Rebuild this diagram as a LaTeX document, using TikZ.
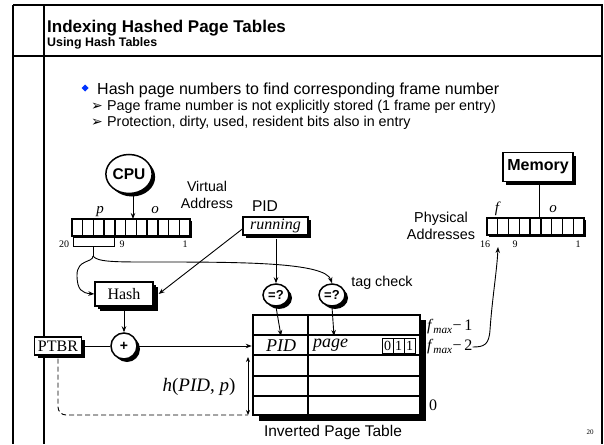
\documentclass[tikz,border=0pt]{standalone}
\usepackage{fontspec}
\setmainfont{Liberation Serif}
\setsansfont{Liberation Sans}
\newfontfamily\symfont{DejaVu Sans}
\usetikzlibrary{shapes.geometric,shadows,arrows.meta}

\begin{document}
\begin{tikzpicture}[x=1pt,y=-1pt,
  sh/.style={drop shadow={shadow xshift=#1,shadow yshift=-#1,fill=black,opacity=1}},
  sh/.default=3pt,
  arr/.style={-{Stealth[length=6pt,width=4.5pt]},line width=0.9pt},
  txt/.style={inner sep=0pt,font=\sffamily\fontsize{#1}{#1}\selectfont},
  txt/.default=14,
  rmtxt/.style={inner sep=0pt,font=\rmfamily\fontsize{#1}{#1}\selectfont},
  rmtxt/.default=10,
  subarrow/.style={inner sep=0pt,anchor=base west,font=\symfont\fontsize{14}{14}\selectfont},
  boxnode/.style={draw,fill=white,line width=1.3pt,inner sep=1pt,sh},
  roundnode/.style={ellipse,draw,fill=white,line width=1.5pt,inner sep=0pt,sh},
  cell/.style={draw,fill=white,line width=1.4pt},
  tline/.style={line width=2.6pt},
]
\useasboundingbox (0,0) rectangle (604,444);

% slide frame
\draw[line width=1.8pt] (13,5) -- (13,444);
\draw[line width=1.2pt] (44,5) -- (44,444);
\draw[line width=1.8pt] (13,5) -- (602,5) -- (602,444);
\draw[line width=1.5pt] (13,56) -- (602,56);

% headings
\node[txt=17,anchor=base west] (title) at (47,33) {\bfseries Indexing Hashed Page Tables};
\node[txt=12.4,anchor=base west] (subtitle) at (47,46) {\bfseries Using Hash Tables};

% bullets
\fill[blue!80!cyan] (85,84.5) -- (88.5,88) -- (85,91.5) -- (81.5,88) -- cycle;
\node[txt=16,anchor=base west] (b1) at (97,94) {Hash page numbers to find corresponding frame number};
\node[subarrow] (a1) at (91,110) {➢};
\node[txt=14.3,anchor=base west] (b2) at (107,110) {Page frame number is not explicitly stored (1 frame per entry)};
\node[subarrow] (a2) at (91,126) {➢};
\node[txt=14.3,anchor=base west] (b3) at (107,126) {Protection, dirty, used, resident bits also in entry};

% CPU and virtual address register
\node[roundnode,minimum width=46,minimum height=39,font=\sffamily\bfseries\fontsize{15.5}{15.5}\selectfont] (cpu) at (129,174) {CPU};
\node[txt=14.2,align=center] (va) at (207,195) {Virtual\\[2pt]Address};
\fill (73.5,220.5) rectangle (191.5,237.5);
\foreach \i in {0,...,10}
  \draw[cell] ({72+\i*10.73},219) rectangle ++(10.73,17);
\node[rmtxt=15,anchor=base] (plbl) at (100,213) {\itshape p};
\node[rmtxt=15,anchor=base] (olbl) at (155,213) {\itshape o};
\node[rmtxt=10,anchor=base] (n20) at (64,247) {20};
\node[rmtxt=10,anchor=base] (n9) at (122,247) {9};
\node[rmtxt=10,anchor=base] (n1) at (185,247) {1};
\coordinate (vain) at (133,219);
\draw[arr] (cpu.south -| vain) -- (vain);

% bracket under the page number bits
\draw[line width=0.8pt] (73,237) -- (73,246) -- (114,246) -- (114,237);
\coordinate (pbr) at (93,256);
\draw[line width=0.8pt] (93,246) -- (pbr);

% PID register
\node[txt=15.6] (pid) at (265,206) {PID};
\node[boxnode,minimum width=65,minimum height=18,rmtxt=16] (run) at (275.5,226) {\itshape running};

% hash function, adder and base register
\node[boxnode,minimum width=58,minimum height=24,rmtxt=16,sh=5pt] (hash) at (124,294) {Hash};
\node[roundnode,minimum width=26,minimum height=26,sh=2pt,font=\sffamily\bfseries\fontsize{14}{14}\selectfont] (plus) at (124,346) {+};
\node[boxnode,minimum width=47,minimum height=18,rmtxt=16] (ptbr) at (58,346) {PTBR};

% comparators
\node[roundnode,minimum width=26,minimum height=22,font=\sffamily\bfseries\fontsize{13}{13}\selectfont] (eq1) at (276,295) {=?};
\node[roundnode,minimum width=26,minimum height=22,font=\sffamily\bfseries\fontsize{13}{13}\selectfont] (eq2) at (332,295) {=?};
\node[txt=14.3] (tag) at (382,283) {tag check};

% inverted page table
\fill (259,320) rectangle (426,421);
\node[draw,fill=white,line width=2.6pt,minimum width=167,minimum height=100,inner sep=0pt] (ipt) at (336.5,365) {};
\foreach \yy in {335,355,376,396}
  \draw[tline] (253,\yy) -- (420,\yy);
\draw[tline] (308,315) -- (308,415);
\node[rmtxt=18] (pidc) at (281,346) {\itshape PID};
\node[rmtxt=18,anchor=west] (pagec) at (313,345) {\itshape page};
\foreach \b in {0,1,2}
  \draw[line width=0.6pt] ({382+\b*11},338) rectangle ++(11,15);
\node[rmtxt=14] (bit0) at (387.5,346) {0};
\node[rmtxt=14] (bit1) at (398.5,346) {1};
\node[rmtxt=14] (bit2) at (409.5,346) {1};
\node[rmtxt=16,anchor=west] (fm1) at (427,327) {\textit{f}\textsubscript{\textit{max}}−\,1};
\node[rmtxt=16,anchor=west] (fm2) at (427,347) {\textit{f}\textsubscript{\textit{max}}−\,2};
\node[rmtxt=16,anchor=west] (f0) at (429,405) {0};
\node[txt=15.5] (iptlbl) at (333,432) {Inverted Page Table};

% offset into the table
\coordinate (hA) at (248,357);
\coordinate (hB) at (248,415);
\draw[{Stealth[length=5pt,width=4pt]}-{Stealth[length=5pt,width=4pt]},line width=0.8pt] (hA) -- (hB);
\node[rmtxt=19] (hlbl) at (199,387) {\textit{h}(\textit{PID}, \textit{p})};

% physical address register and memory
\node[txt=14.4,align=center] (pa) at (441,226) {Physical\\[2pt]Addresses};
\fill (488.5,219.5) rectangle (585.5,236.5);
\foreach \i in {0,...,8}
  \draw[cell] ({487+\i*10.78},218) rectangle ++(10.78,17);
\node[rmtxt=15,anchor=base] (flbl) at (497,212) {\itshape f};
\node[rmtxt=15,anchor=base] (o2lbl) at (553,212) {\itshape o};
\node[rmtxt=10,anchor=base] (n16) at (485,247) {16};
\node[rmtxt=10,anchor=base] (n9b) at (515,247) {9};
\node[rmtxt=10,anchor=base] (n1b) at (578,247) {1};
\node[boxnode,minimum width=70,minimum height=29,font=\sffamily\bfseries\fontsize{16}{16}\selectfont] (mem) at (538,167) {Memory};
\coordinate (paout) at (539,218);
\coordinate (pain) at (498,247);
\draw[line width=0.9pt] (paout) -- (paout |- mem.south);

% connectors
\draw[arr] (pbr) .. controls (93,263) and (77,259) .. (77,275)
           .. controls (77,290) and (82,293) .. (hash.west);
\draw[arr] (pbr) .. controls (97,262) and (115,262) .. (150,262)
           .. controls (240,262) and (325,262) .. (eq2.north);
\draw[arr] ([yshift=-3pt]run.west) -- ([xshift=5pt]hash.east);
\draw[arr] ([yshift=-3pt]run.south -| eq1.north) -- (eq1.north);
\draw[arr] (hash.south) -- (plus.north);
\draw[line width=0.9pt] (ptbr.east) -- (plus.west);
\draw[arr] (plus.east) -- (plus.east -| ipt.west);
\draw[arr] (eq1.south) -- (281,336);
\draw[arr] (eq2.south) -- (334,336);
\draw[line width=0.9pt,dashed,dash pattern=on 5pt off 3pt,rounded corners=8pt]
  ([yshift=-3pt]ptbr.south) |- (hB);
\draw[arr] (fm2.east) .. controls (484,347) and (489,345) .. (490,330)
           .. controls (492,300) and (497,270) .. (pain);

% slide number
\node[rmtxt=7] (pg) at (590,432) {20};
\end{tikzpicture}
\end{document}
